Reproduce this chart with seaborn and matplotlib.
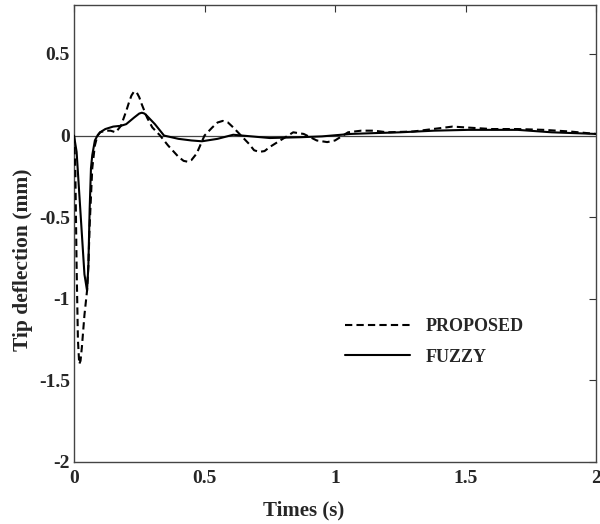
import numpy as np
import pandas as pd
import matplotlib
matplotlib.use("Agg")
import matplotlib.pyplot as plt
import seaborn as sns
from matplotlib.lines import Line2D

# ---- data ----
t_proposed = [0, 0.005, 0.01, 0.015, 0.02, 0.025, 0.03, 0.04, 0.05, 0.055, 0.06, 0.07, 0.08, 0.09,
              0.1, 0.12, 0.14, 0.16, 0.18, 0.2, 0.21, 0.22, 0.23, 0.24, 0.25, 0.26, 0.28, 0.3, 0.33,
              0.36, 0.4, 0.42, 0.435, 0.45, 0.47, 0.5, 0.53, 0.55, 0.57, 0.59, 0.61, 0.64, 0.67,
              0.69, 0.71, 0.73, 0.75, 0.8, 0.84, 0.88, 0.93, 0.97, 1.0, 1.05, 1.1, 1.15, 1.2, 1.3,
              1.4, 1.45, 1.5, 1.6, 1.7, 1.8, 1.9, 2.0]
v_proposed = [0, -0.2, -0.8, -1.25, -1.4, -1.38, -1.3, -1.1, -0.95, -0.8, -0.55, -0.2, -0.06, 0.0,
              0.02, 0.03, 0.03, 0.02, 0.06, 0.15, 0.2, 0.245, 0.27, 0.265, 0.235, 0.19, 0.11, 0.05, 0.0,
              -0.06, -0.13, -0.155, -0.16, -0.15, -0.11, 0.0, 0.05, 0.08, 0.09, 0.08, 0.05, 0.0, -0.05,
              -0.09, -0.1, -0.095, -0.07, -0.02, 0.02, 0.01, -0.03, -0.04, -0.03, 0.02, 0.03, 0.03, 0.02,
              0.025, 0.045, 0.055, 0.05, 0.04, 0.04, 0.035, 0.025, 0.01]

t_fuzzy = [0, 0.01, 0.02, 0.03, 0.04, 0.05, 0.055, 0.06, 0.065, 0.07, 0.08, 0.09, 0.1, 0.12, 0.15,
           0.18, 0.2, 0.23, 0.25, 0.26, 0.27, 0.28, 0.31, 0.345, 0.4, 0.45, 0.49, 0.55, 0.61, 0.68,
           0.75, 0.87, 0.95, 1.06, 1.15, 1.25, 1.38, 1.51, 1.7, 1.83, 2.0]
v_fuzzy = [0, -0.1, -0.35, -0.6, -0.85, -0.95, -0.8, -0.45, -0.2, -0.12, -0.03, 0.0, 0.02, 0.04, 0.055,
           0.06, 0.07, 0.11, 0.135, 0.14, 0.135, 0.12, 0.07, 0.0, -0.02, -0.03, -0.035, -0.02, 0.005,
           -0.005, -0.015, -0.01, -0.005, 0.01, 0.015, 0.02, 0.03, 0.035, 0.035, 0.02, 0.01]

series_names = ["PROPOSED", "FUZZY"]
x_ticks = [0, 0.5, 1, 1.5, 2]
x_tick_labels = ["0", "0.5", "1", "1.5", "2"]
y_ticks = [-2, -1.5, -1, -0.5, 0, 0.5]
y_tick_labels = ["-2", "-1.5", "-1", "-0.5", "0", "0.5"]

df = pd.concat([
    pd.DataFrame({"t": t_proposed, "v": v_proposed, "series": series_names[0]}),
    pd.DataFrame({"t": t_fuzzy, "v": v_fuzzy, "series": series_names[1]}),
], ignore_index=True)

sns.set_style("white")
plt.rcParams["font.family"] = ["Liberation Serif", "DejaVu Serif"]
plt.rcParams["font.weight"] = "bold"

fig = plt.figure(figsize=(6.0, 5.24), dpi=100)
ax = fig.add_axes([74 / 600, 1 - 462 / 524, (596 - 74) / 600, (462 - 5) / 524])

ax.axhline(0, color="#444444", lw=0.9, zorder=1)

sns.lineplot(data=df, x="t", y="v", style="series", style_order=series_names,
             dashes={"PROPOSED": (3.5, 2), "FUZZY": ""}, color="black", lw=1.5,
             sort=False, estimator=None, ax=ax, legend=False, zorder=3)

ax.set_xlim(0, 2)
ax.set_ylim(-2, 0.8)
ax.set_xticks(x_ticks)
ax.set_xticklabels(x_tick_labels)
ax.set_yticks(y_ticks)
ax.set_yticklabels(y_tick_labels)
ax.tick_params(direction="in", length=5, width=0.8, top=True, right=True,
               labelsize=14, pad=3, color="#333333")
ax.tick_params(axis="x", pad=6)
for lbl in ax.get_xticklabels() + ax.get_yticklabels():
    lbl.set_fontweight("bold")
for sp in ax.spines.values():
    sp.set_visible(True)
    sp.set_color("#444444")
    sp.set_linewidth(1.0)

ax.set_xlabel("Times (s)", fontsize=15, fontweight="bold")
ax.set_ylabel("Tip deflection (mm)", fontsize=15.5, fontweight="bold")
ax.xaxis.set_label_coords(0.44, -0.085)
ax.yaxis.set_label_coords(-0.078, 0.442)

handles = [Line2D([], [], color="black", lw=1.5, dashes=(3.5, 2)),
           Line2D([], [], color="black", lw=1.5)]
leg = ax.legend(handles, series_names, loc="upper left", bbox_to_anchor=(0.519, 0.315),
                frameon=False, handlelength=3.6, handletextpad=0.85, labelspacing=0.75,
                borderaxespad=0, borderpad=0,
                prop={"family": ["Liberation Serif"], "weight": "bold", "size": 13})

fig.savefig("out.png", dpi=100)
